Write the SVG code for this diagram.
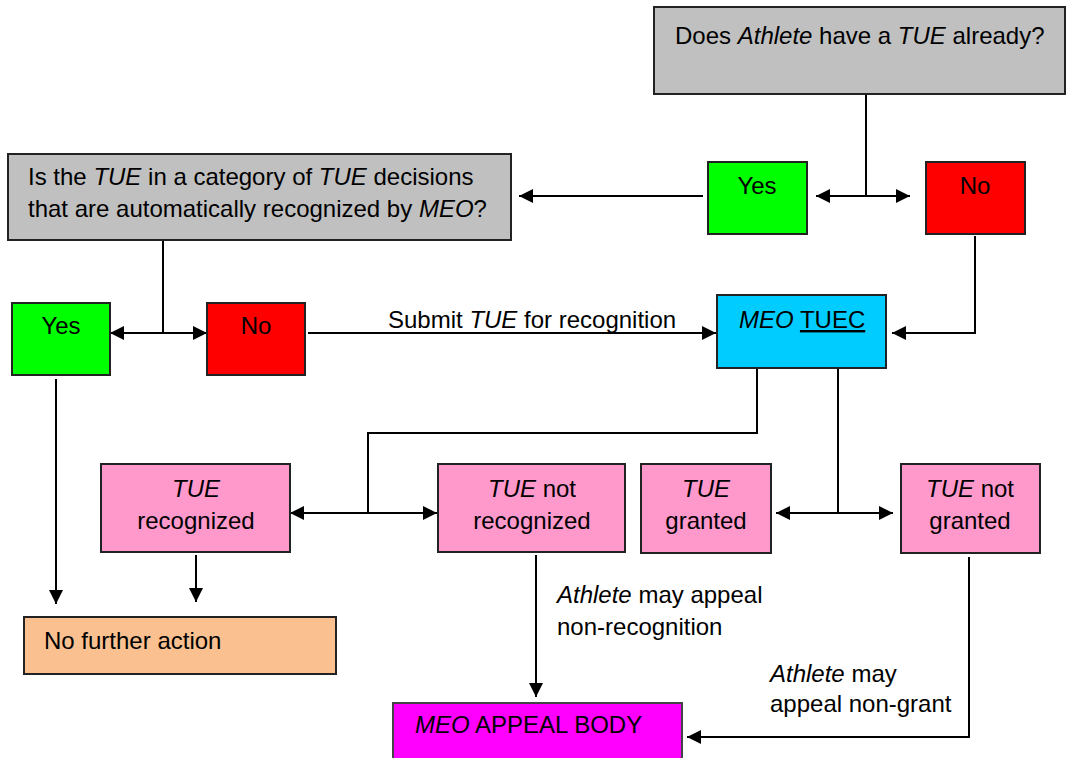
<svg xmlns="http://www.w3.org/2000/svg" width="1066" height="758" viewBox="0 0 1066 758">
<style>
.box{stroke:#222;stroke-width:2}
.t{font-family:"Liberation Sans",Arial,sans-serif;font-size:24px;fill:#000}
.i{font-style:italic}
.c{stroke:#000;stroke-width:2;fill:none}
</style>
<defs>
<marker id="ah" viewBox="0 0 14 14" refX="14" refY="7" markerWidth="14" markerHeight="14" orient="auto-start-reverse" markerUnits="userSpaceOnUse">
<path d="M0,0 L14,7 L0,14 z" fill="#000"/>
</marker>
</defs>
<rect width="1066" height="758" fill="#fff"/>
<g id="connectors">
<polyline class="c" points="866,94 866,196"/>
<line class="c" x1="816" y1="196" x2="910" y2="196" marker-start="url(#ah)" marker-end="url(#ah)"/>
<line class="c" x1="703" y1="196" x2="519" y2="196" marker-end="url(#ah)"/>
<polyline class="c" points="163,240 163,333"/>
<line class="c" x1="110" y1="333" x2="207" y2="333" marker-start="url(#ah)" marker-end="url(#ah)"/>
<line class="c" x1="308" y1="333" x2="716" y2="333" marker-end="url(#ah)"/>
<polyline class="c" points="975,236 975,333 892,333" marker-end="url(#ah)"/>
<polyline class="c" points="757,368 757,433 368,433 368,513"/>
<line class="c" x1="290" y1="513" x2="437" y2="513" marker-start="url(#ah)" marker-end="url(#ah)"/>
<polyline class="c" points="838,368 838,513"/>
<line class="c" x1="776" y1="513" x2="893" y2="513" marker-start="url(#ah)" marker-end="url(#ah)"/>
<line class="c" x1="56" y1="379" x2="56" y2="604" marker-end="url(#ah)"/>
<line class="c" x1="196" y1="555" x2="196" y2="602" marker-end="url(#ah)"/>
<line class="c" x1="536" y1="555" x2="536" y2="697" marker-end="url(#ah)"/>
<polyline class="c" points="969,557 969,737 687,737" marker-end="url(#ah)"/>
<text class="t" x="388" y="328">Submit <tspan class="i">TUE</tspan> for recognition</text>
<text class="t" x="557" y="603"><tspan class="i">Athlete</tspan> may appeal</text>
<text class="t" x="557" y="635">non-recognition</text>
<text class="t" x="770" y="682"><tspan class="i">Athlete</tspan> may</text>
<text class="t" x="770" y="712">appeal non-grant</text>
</g>
<g id="q1">
<rect class="box" x="654" y="7" width="411" height="87" fill="#C0C0C0"/>
<text class="t" x="675" y="44">Does <tspan class="i">Athlete</tspan> have a <tspan class="i">TUE</tspan> already?</text>
</g>
<g id="yes1">
<rect class="box" x="708" y="162" width="99" height="72" fill="#00FF00"/>
<text class="t" x="757" y="194" text-anchor="middle">Yes</text>
</g>
<g id="no1">
<rect class="box" x="926" y="162" width="99" height="72" fill="#FF0000"/>
<text class="t" x="975" y="194" text-anchor="middle">No</text>
</g>
<g id="q2">
<rect class="box" x="8" y="154" width="503" height="86" fill="#C0C0C0"/>
<text class="t" x="28" y="185">Is the <tspan class="i">TUE</tspan> in a category of <tspan class="i">TUE</tspan> decisions</text>
<text class="t" x="28" y="217">that are automatically recognized by <tspan class="i">MEO</tspan>?</text>
</g>
<g id="yes2">
<rect class="box" x="12" y="303" width="98" height="72" fill="#00FF00"/>
<text class="t" x="61" y="334" text-anchor="middle">Yes</text>
</g>
<g id="no2">
<rect class="box" x="207" y="303" width="98" height="72" fill="#FF0000"/>
<text class="t" x="256" y="334" text-anchor="middle">No</text>
</g>
<g id="tuec">
<rect class="box" x="717" y="295" width="169" height="73" fill="#00CCFF"/>
<text class="t" x="739" y="328"><tspan class="i">MEO</tspan> <tspan text-decoration="underline">TUEC</tspan></text>
</g>
<g id="recognized">
<rect class="box" x="101" y="464" width="189" height="88" fill="#FF99CC"/>
<text class="t" x="196" y="497" text-anchor="middle"><tspan class="i">TUE</tspan></text>
<text class="t" x="196" y="529" text-anchor="middle">recognized</text>
</g>
<g id="notrecognized">
<rect class="box" x="438" y="464" width="187" height="88" fill="#FF99CC"/>
<text class="t" x="532" y="497" text-anchor="middle"><tspan class="i">TUE</tspan> not</text>
<text class="t" x="532" y="529" text-anchor="middle">recognized</text>
</g>
<g id="granted">
<rect class="box" x="641" y="464" width="130" height="89" fill="#FF99CC"/>
<text class="t" x="706" y="497" text-anchor="middle"><tspan class="i">TUE</tspan></text>
<text class="t" x="706" y="529" text-anchor="middle">granted</text>
</g>
<g id="notgranted">
<rect class="box" x="901" y="464" width="139" height="89" fill="#FF99CC"/>
<text class="t" x="970" y="497" text-anchor="middle"><tspan class="i">TUE</tspan> not</text>
<text class="t" x="970" y="529" text-anchor="middle">granted</text>
</g>
<g id="nofurther">
<rect class="box" x="24" y="617" width="312" height="57" fill="#FAC090"/>
<text class="t" x="44" y="649">No further action</text>
</g>
<g id="appeal">
<rect x="393" y="703" width="289" height="70" fill="#FF00FF" stroke="#444" stroke-width="2"/>
<text class="t" x="415" y="733"><tspan class="i">MEO</tspan> APPEAL BODY</text>
</g>
</svg>
